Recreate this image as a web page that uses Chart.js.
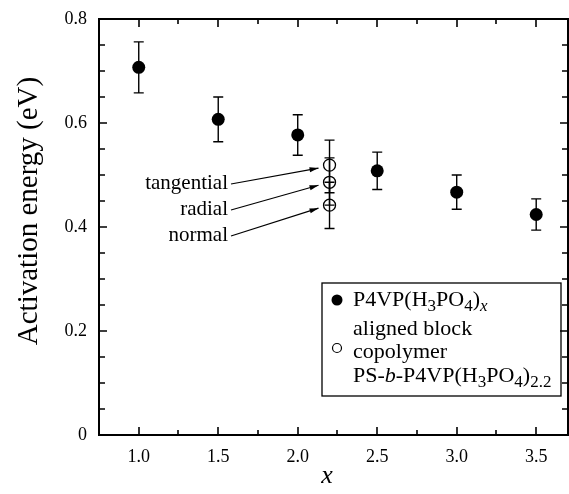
<!DOCTYPE html>
<html>
<head>
<meta charset="utf-8">
<script src="https://cdn.jsdelivr.net/npm/chart.js@4.4.0/dist/chart.umd.min.js"></script>
<style>
  html, body { margin: 0; padding: 0; background: #fff; overflow: hidden; }
  canvas { display: block; }
</style>
</head>
<body>
<canvas id="results" width="569" height="494"></canvas>
<script>
// P4VP(H3PO4)x
const xValues = [1.0, 1.5, 2.0, 2.5, 3.0, 3.5];
const eaValues = [0.707, 0.607, 0.577, 0.508, 0.467, 0.424];
const eaErr = [0.049, 0.043, 0.039, 0.036, 0.033, 0.030];

// aligned block copolymer PS-b-P4VP(H3PO4)2.2
const alignedLabels = ['tangential', 'radial', 'normal'];
const alignedX = [2.2, 2.2, 2.2];
const alignedValues = [0.519, 0.486, 0.442];
const alignedErrUp = [0.048, 0.047, 0.044];
const alignedErrDown = [0.053, 0.044, 0.045];

const xTicks = [1.0, 1.5, 2.0, 2.5, 3.0, 3.5];
const yTicks = [0, 0.2, 0.4, 0.6, 0.8];

const serif = "'Liberation Serif', 'DejaVu Serif', serif";

let filled = xValues.map((x, i) => ({x: x, y: eaValues[i], lo: eaValues[i] - eaErr[i], hi: eaValues[i] + eaErr[i]}));
let open = alignedX.map((x, i) => ({x: x, y: alignedValues[i], lo: alignedValues[i] - alignedErrDown[i], hi: alignedValues[i] + alignedErrUp[i]}));

// error bars, drawn under the markers
const errorBars = {
	id: 'errorBars',
	beforeDatasetsDraw(chart) {
		const ctx = chart.ctx;
		const xs = chart.scales.x, ys = chart.scales.y;
		ctx.save();
		ctx.strokeStyle = '#000';
		ctx.lineWidth = 1.4;
		chart.data.datasets.forEach(ds => {
			for (let p of ds.data) {
				let px = xs.getPixelForValue(p.x);
				let top = ys.getPixelForValue(p.hi);
				let bot = ys.getPixelForValue(p.lo);
				ctx.beginPath();
				ctx.moveTo(px, top); ctx.lineTo(px, bot);
				ctx.moveTo(px - 5, top); ctx.lineTo(px + 5, top);
				ctx.moveTo(px - 5, bot); ctx.lineTo(px + 5, bot);
				ctx.stroke();
			}
		});
		ctx.restore();
	}
};

// box, inward ticks, titles, labels and legend
const frame = {
	id: 'frame',
	afterDraw(chart) {
		const ctx = chart.ctx;
		const a = chart.chartArea;
		const xs = chart.scales.x, ys = chart.scales.y;
		ctx.save();
		ctx.strokeStyle = '#000';
		ctx.lineWidth = 2;
		ctx.strokeRect(a.left, a.top, a.right - a.left, a.bottom - a.top);

		ctx.lineWidth = 1.6;
		ctx.beginPath();
		for (let v = 0.75; v <= xs.max + 1e-9; v += 0.25) {
			let px = Math.round(xs.getPixelForValue(v));
			let len = Math.abs((v * 2) - Math.round(v * 2)) < 1e-6 ? 8 : 5;
			ctx.moveTo(px, a.bottom); ctx.lineTo(px, a.bottom - len);
			ctx.moveTo(px, a.top); ctx.lineTo(px, a.top + len);
		}
		for (let v = 0; v <= 0.8 + 1e-9; v += 0.05) {
			let py = Math.round(ys.getPixelForValue(v));
			let len = Math.abs((v * 5) - Math.round(v * 5)) < 1e-6 ? 8 : 6;
			ctx.moveTo(a.left, py); ctx.lineTo(a.left + len, py);
			ctx.moveTo(a.right, py); ctx.lineTo(a.right - len, py);
		}
		ctx.stroke();

		// axis titles
		ctx.fillStyle = '#000';
		ctx.textAlign = 'center';
		ctx.textBaseline = 'alphabetic';
		ctx.font = 'italic 26px ' + serif;
		ctx.fillText('x', 327, 483);
		ctx.save();
		ctx.translate(37, 211);
		ctx.rotate(-Math.PI / 2);
		ctx.font = '29px ' + serif;
		ctx.fillText('Activation energy (eV)', 0, 0);
		ctx.restore();

		// point labels with arrows
		ctx.font = '21px ' + serif;
		ctx.textAlign = 'right';
		ctx.textBaseline = 'middle';
		const textX = 228;
		const textY = [183, 209, 235];
		ctx.lineWidth = 1.2;
		alignedLabels.forEach((lab, i) => {
			ctx.fillText(lab, textX, textY[i]);
			let tx = xs.getPixelForValue(alignedX[i]) - 11;
			let ty = ys.getPixelForValue(alignedValues[i]) + 3;
			let sx = textX + 3, sy = textY[i] + 1;
			ctx.beginPath();
			ctx.moveTo(sx, sy); ctx.lineTo(tx, ty);
			ctx.stroke();
			let ang = Math.atan2(ty - sy, tx - sx);
			ctx.beginPath();
			ctx.moveTo(tx, ty);
			ctx.lineTo(tx - 9 * Math.cos(ang) + 2.5 * Math.sin(ang), ty - 9 * Math.sin(ang) - 2.5 * Math.cos(ang));
			ctx.lineTo(tx - 9 * Math.cos(ang) - 2.5 * Math.sin(ang), ty - 9 * Math.sin(ang) + 2.5 * Math.cos(ang));
			ctx.closePath();
			ctx.fill();
		});

		// legend
		let lx = 322, ly = 283;
		ctx.lineWidth = 1.3;
		ctx.strokeRect(lx, ly, 239, 113);
		ctx.beginPath();
		ctx.arc(lx + 15, ly + 17, 5.5, 0, Math.PI * 2);
		ctx.fill();
		ctx.beginPath();
		ctx.arc(lx + 15, ly + 65, 4.5, 0, Math.PI * 2);
		ctx.lineWidth = 1.2;
		ctx.stroke();
		ctx.textAlign = 'left';
		ctx.textBaseline = 'alphabetic';
		rich(ctx, [['P4VP(H'], ['3', 's'], ['PO'], ['4', 's'], [')'], ['x', 'si']], lx + 31, ly + 23);
		rich(ctx, [['aligned block']], lx + 31, ly + 52);
		rich(ctx, [['copolymer']], lx + 31, ly + 75);
		rich(ctx, [['PS-'], ['b', 'i'], ['-P4VP(H'], ['3', 's'], ['PO'], ['4', 's'], [')'], ['2.2', 's']], lx + 31, ly + 99);
		ctx.restore();
	}
};

function rich(ctx, parts, x, y) {
	for (let p of parts) {
		let style = p[1] || '';
		let sub = style.indexOf('s') >= 0;
		let size = sub ? 17 : 22;
		let italic = style.indexOf('i') >= 0 ? 'italic ' : '';
		ctx.font = italic + size + 'px ' + serif;
		ctx.fillText(p[0], x, y + (sub ? 5 : 0));
		x += ctx.measureText(p[0]).width;
	}
}

let ctx = document.getElementById('results').getContext('2d');
let myChart = new Chart(ctx, {
	type: 'scatter',
	data: {
		datasets: [{
			label: 'P4VP(H3PO4)x',
			data: filled,
			pointStyle: 'circle',
			pointRadius: 6.5,
			pointHoverRadius: 6.5,
			backgroundColor: '#000',
			borderColor: '#000',
			borderWidth: 0
		}, {
			label: 'aligned block copolymer PS-b-P4VP(H3PO4)2.2',
			data: open,
			pointStyle: 'circle',
			pointRadius: 6,
			pointHoverRadius: 6,
			backgroundColor: 'rgba(0,0,0,0)',
			borderColor: '#000',
			borderWidth: 1.3
		}]
	},
	options: {
		responsive: false,
		animation: false,
		events: [],
		layout: {autoPadding: false, padding: {top: 19, right: 1, left: 0, bottom: 0}},
		plugins: {
			legend: {display: false},
			tooltip: {enabled: false}
		},
		scales: {
			x: {
				type: 'linear',
				min: 0.75,
				max: 3.7,
				grid: {display: false, drawTicks: false},
				border: {display: false},
				afterBuildTicks: (scale) => { scale.ticks = xTicks.map(v => ({value: v})); },
				afterFit: (scale) => { scale.height = 59; scale.paddingLeft = 0; scale.paddingRight = 0; },
				ticks: {
					color: '#000',
					padding: 11,
					font: {family: serif, size: 18},
					callback: (v) => v.toFixed(1)
				}
			},
			y: {
				type: 'linear',
				min: 0,
				max: 0.8,
				grid: {display: false, drawTicks: false},
				border: {display: false},
				afterBuildTicks: (scale) => { scale.ticks = yTicks.map(v => ({value: v})); },
				afterFit: (scale) => { scale.width = 99; scale.paddingTop = 0; scale.paddingBottom = 0; },
				ticks: {
					color: '#000',
					padding: 12,
					font: {family: serif, size: 18},
					callback: (v) => v === 0 ? '0' : v.toFixed(1)
				}
			}
		}
	},
	plugins: [errorBars, frame]
});
</script>
</body>
</html>
